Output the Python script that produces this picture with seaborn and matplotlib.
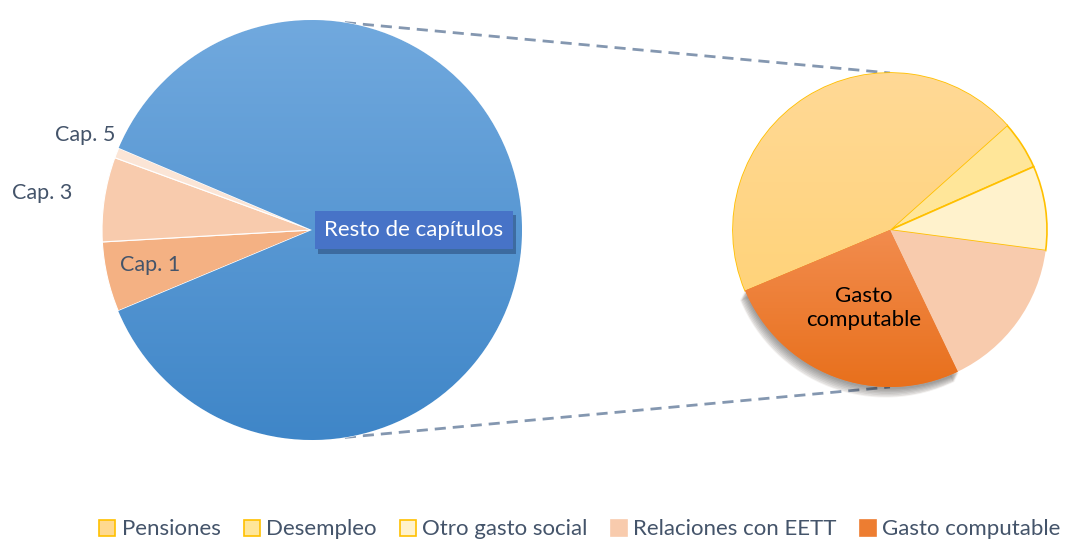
import numpy as np
import matplotlib.pyplot as plt
import matplotlib.patches as mpatches
import matplotlib.patheffects as pe
from matplotlib.lines import Line2D
import seaborn as sns

sns.set_theme(style="white")
plt.rcParams['font.family'] = ['Lato', 'DejaVu Sans']

# left pie: budget chapters (%)
chapters = ["Cap. 1", "Cap. 3", "Cap. 5", "Resto de capítulos"]
chapter_share = [5.4, 6.5, 0.8, 87.3]
chapter_colors = ["#F4B183", "#F8CBAD", "#FBE5D6", "#5B9BD5"]

# right pie: breakdown (%)
groups = ["Pensiones", "Desempleo", "Otro gasto social", "Relaciones con EETT", "Gasto computable"]
group_share = [44.7, 5.0, 8.7, 15.8, 25.8]
group_colors = ["#FFD98F", "#FFE699", "#FFF2CC", "#F8CBAD", "#ED7D31"]
group_edges = ["#FFC000", "#FFC000", "#FFC000", "none", "none"]

text_col = "#44546A"
W, H = 1069, 542

fig = plt.figure(figsize=(W / 100, H / 100), dpi=100)
ax = fig.add_axes([0, 0, 1, 1])

c1, r1 = (312, 312), 210
c2, r2 = (890, 312), 157
start = 202.7


def gradient(ax, wedge, top, bottom):
    # vertical colour gradient clipped to a wedge
    x0, y0, x1, y1 = wedge.get_window_extent().transformed(ax.transData.inverted()).extents
    cmap = sns.blend_palette([bottom, top], as_cmap=True)
    grad = np.linspace(0, 1, 256).reshape(-1, 1)
    im = ax.imshow(grad, cmap=cmap, origin="lower", extent=(x0, x1, y0, y1),
                   aspect="auto", zorder=wedge.get_zorder())
    im.set_clip_path(wedge)


# connectors
a = np.deg2rad(81)
for s in (1, -1):
    ax.plot([c1[0] + r1 * np.cos(a), c2[0]], [c1[1] + s * r1 * np.sin(a), c2[1] + s * r2],
            color="#8497B0", lw=2, ls=(0, (4, 2.5)), zorder=0)

w1, _ = ax.pie(chapter_share, colors=chapter_colors, center=c1, radius=r1,
               startangle=start, counterclock=False,
               wedgeprops=dict(edgecolor="white", linewidth=0.8))
gradient(ax, w1[3], "#71A9DE", "#3F86C8")

w2, _ = ax.pie(group_share, colors=group_colors, center=c2, radius=r2,
               startangle=start, counterclock=False,
               wedgeprops=dict(linewidth=1.2))
for w, ec in zip(w2, group_edges):
    w.set_edgecolor(ec)
gradient(ax, w2[0], "#FFD996", "#FFD37A")
# soft shadow under the highlighted slice
for k in range(7):
    sh = mpatches.Shadow(w2[4], -0.5 * k, -1 - k, alpha=0.06, zorder=0.5)
    sh.set_facecolor("black")
    ax.add_patch(sh)
w2[4].set_zorder(2)
gradient(ax, w2[4], "#F28C4E", "#E8701C")

# labels
ax.text(85, 407, "Cap. 5", color=text_col, fontsize=15.5, ha="center", va="center")
ax.text(42, 349, "Cap. 3", color=text_col, fontsize=15.5, ha="center", va="center")
ax.text(150, 277, "Cap. 1", color=text_col, fontsize=15.5, ha="center", va="center")
t = ax.text(414, 312, chapters[3], color="white", fontsize=16, ha="center", va="center", zorder=5,
            bbox=dict(boxstyle="square,pad=0.42", fc="#4773C7", ec="none"))
t.get_bbox_patch().set_path_effects([
    pe.SimplePatchShadow(offset=(2, -3), shadow_rgbFace="#1F3864", alpha=0.45),
    pe.Normal()])
ax.text(864, 234, "Gasto\ncomputable", color="black", fontsize=16, ha="center", va="center",
        linespacing=1.3, zorder=5)

handles = [Line2D([], [], ls="none", marker="s", markersize=11, markerfacecolor=fc,
                  markeredgecolor=(ec if ec != "none" else fc), markeredgewidth=1.2)
           for fc, ec in zip(group_colors, group_edges)]
leg = fig.legend(handles, groups, loc="lower center", bbox_to_anchor=(0.543, -0.032), ncol=5,
                 frameon=False, fontsize=16, handlelength=0.6, handletextpad=0.35,
                 columnspacing=1.1)
for t in leg.get_texts():
    t.set_color(text_col)

ax.set_xlim(0, W)
ax.set_ylim(0, H)
ax.set_aspect("equal")
ax.axis("off")
fig.savefig("out.png", dpi=100)
